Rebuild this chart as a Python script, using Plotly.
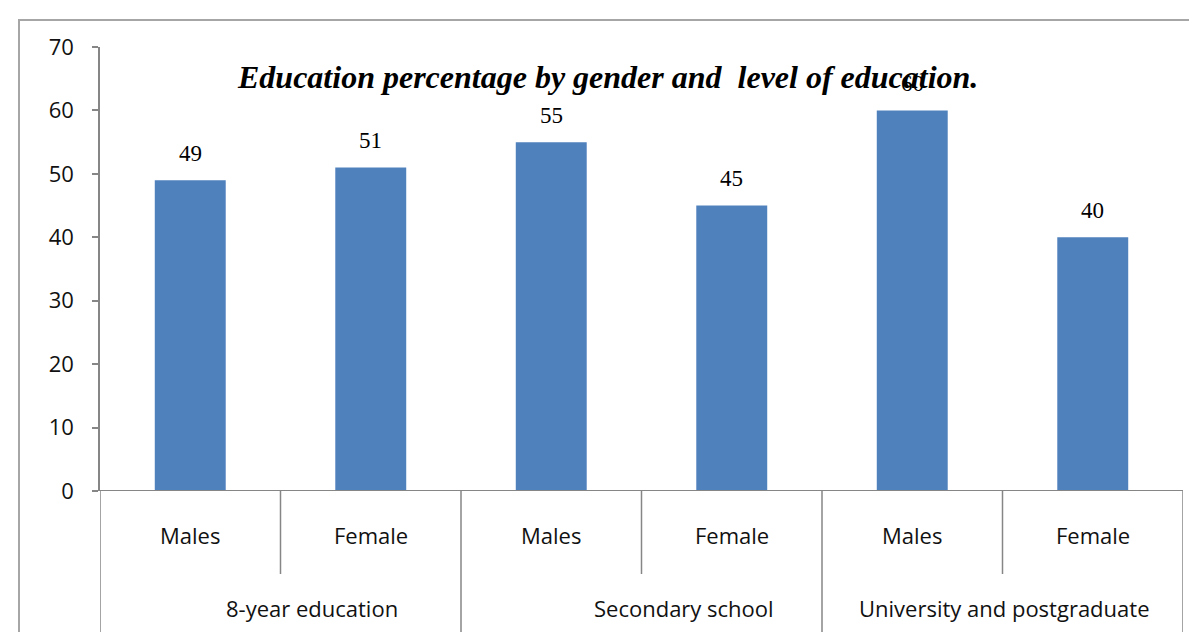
import plotly.graph_objects as go

# ---- data ----
groups = ["8-year education", "Secondary school", "University and postgraduate"]
genders = ["Males", "Female", "Males", "Female", "Males", "Female"]
values = [49, 51, 55, 45, 60, 40]
y_ticks = [0, 10, 20, 30, 40, 50, 60, 70]
title_text = "Education percentage by gender and  level of education."

# ---- layout constants (pixels) ----
W, H = 1197, 632
L, R, T, B = 92, 22, 39, 149
pw, ph = W - L - R, H - T - B

def px_x(p):
    return (p - L) / pw

def px_y(p):
    return (H - B - p) / ph

idx = list(range(len(values)))
BAR = "#4F81BD"
GRAY = "#868686"

fig = go.Figure()
fig.add_trace(go.Bar(x=idx, y=values, marker=dict(color=BAR, line=dict(width=0)),
                     hoverinfo="skip", showlegend=False))

shapes = []
# outer border
shapes.append(dict(type="rect", xref="paper", yref="paper",
                   x0=px_x(11), x1=px_x(1195), y0=px_y(700), y1=px_y(12),
                   line=dict(color="#A6A6A6", width=2), layer="below"))
bottom = px_y(640)
# group dividers (including both ends)
for g in range(len(groups) + 1):
    shapes.append(dict(type="line", xref="x", yref="paper",
                       x0=2 * g - 0.5, x1=2 * g - 0.5, y0=bottom, y1=0,
                       line=dict(color=GRAY, width=1.5)))
# inner dividers
for g in range(len(groups)):
    shapes.append(dict(type="line", xref="x", yref="paper",
                       x0=2 * g + 0.5, x1=2 * g + 0.5, y0=px_y(566), y1=0,
                       line=dict(color=GRAY, width=1.5)))
# x axis line with small left extension
shapes.append(dict(type="line", xref="paper", yref="y",
                   x0=px_x(85), x1=1, y0=0, y1=0,
                   line=dict(color=GRAY, width=2)))

annotations = []
# data labels
for i, v in zip(idx, values):
    annotations.append(dict(x=i, y=v, xref="x", yref="y", text=str(v),
                            showarrow=False, yshift=27, yanchor="middle",
                            font=dict(family="Liberation Serif", size=23, color="#000")))
# group labels
group_shift = [31, 42, 1]
for g, name in enumerate(groups):
    annotations.append(dict(x=2 * g + 0.5, y=px_y(600), xref="x", yref="paper",
                            text=name, showarrow=False, xshift=group_shift[g],
                            yanchor="middle",
                            font=dict(family="Open Sans", size=22, color="#111")))
# gender labels
for i, gname in zip(idx, genders):
    annotations.append(dict(x=i, y=px_y(527), xref="x", yref="paper",
                            text=gname, showarrow=False, yanchor="middle",
                            font=dict(family="Open Sans", size=22, color="#111")))
# title
annotations.append(dict(x=px_x(227), y=px_y(69), xref="paper", yref="paper",
                        xanchor="left", yanchor="middle", showarrow=False,
                        text="<b><i>" + title_text + "</i></b>",
                        font=dict(family="Liberation Serif", size=32, color="#000")))

fig.update_layout(
    width=W, height=H,
    margin=dict(l=L, r=R, t=T, b=B, pad=0),
    paper_bgcolor="white", plot_bgcolor="white",
    bargap=0.607,
    xaxis=dict(range=[-0.5, len(values) - 0.5], showticklabels=False,
               showgrid=False, zeroline=False, showline=False, ticks=""),
    yaxis=dict(range=[0, 70], tickvals=y_ticks, showgrid=False, zeroline=False,
               showline=True, linecolor=GRAY, linewidth=1.5,
               ticks="outside", ticklen=6, tickcolor=GRAY, tickwidth=1.5,
               ticklabelstandoff=14,
               tickfont=dict(family="Open Sans", size=22, color="#111")),
    shapes=shapes,
    annotations=annotations,
)

fig.write_html("out.html")
